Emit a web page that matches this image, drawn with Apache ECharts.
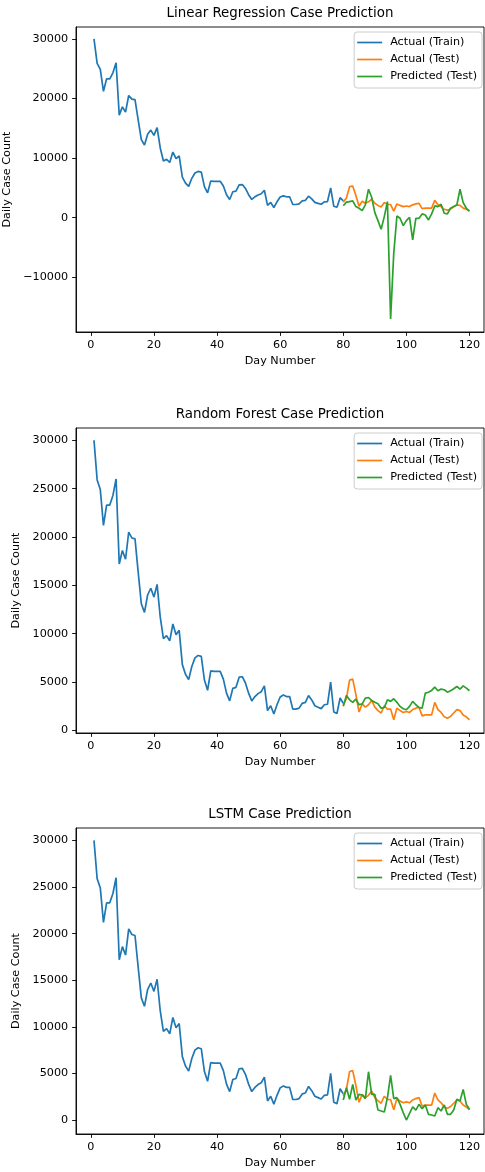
<!DOCTYPE html>
<html lang="en">

<head>
    <meta charset="UTF-8">
    <title>Case Prediction</title>
    <script src="https://cdn.jsdelivr.net/npm/echarts@6.0.0/dist/echarts.min.js"></script>
    <style>
        body { margin: 0; background: #fff; }
        #main { width: 485px; height: 1172px; }
    </style>
</head>

<body>
    <div id="main"></div>
    <script type="text/javascript">
        // ---- data ----
        var trainStartDay = 1;
        var testStartDay = 80;

        // Actual (Train): days 1..80
        var trainCases = [
            30000, 25900, 24900, 21200, 23300, 23300, 24300, 26000, 17200, 18600,
            17700, 20500, 19900, 19800, 16400, 13100, 12200, 14000, 14700, 13800,
            15100, 11700, 9500, 9800, 9250, 11000, 9900, 10350, 6800, 5800,
            5250, 6600, 7500, 7750, 7650, 5200, 4150, 6150, 6100, 6100,
            6100, 5300, 3850, 3050, 4350, 4450, 5500, 5550, 4900, 3850,
            3050, 3500, 3800, 4000, 4600, 2050, 2550, 1700, 2650, 3450,
            3650, 3500, 3500, 2200, 2200, 2300, 2800, 2900, 3600, 3150,
            2550, 2400, 2250, 2650, 2700, 5000, 1900, 1750, 3350, 2800
        ];

        // Actual (Test): days 80..120
        var testCases = [
            2600, 3300, 5200, 5300, 3700, 1900, 2750, 2400, 2650, 3100,
            2400, 2050, 1800, 2550, 2200, 2200, 1100, 2300, 2050, 1850,
            1950, 1850, 2150, 2300, 2400, 1500, 1600, 1600, 1600, 2900,
            2150, 1850, 1400, 1250, 1450, 1800, 2150, 2050, 1600, 1400,
            1100
        ];

        // Predicted (Test), one list per model
        var lrPred = [
            2000, 2600, 2700, 2800, 1850, 1570, 1180, 2130, 4760, 3420,
            840, -500, -1960, 170, 2690, -17000, -6000, 280, -110, -1340,
            -500, 60, -3750, -110, -110, 620, 450, -390, 620, 1960,
            1850, 2240, 730, 620, 1570, 1850, 2130, 4760, 2520, 1570,
            1100
        ];
        var rfPred = [
            2500, 3600, 3160, 2900, 3230, 2650, 2750, 3340, 3400, 3100,
            2900, 2750, 2300, 2370, 3160, 3000, 3270, 2900, 2480, 2240,
            2130, 2480, 3000, 2650, 2370, 2300, 3850, 3950, 4130, 4470,
            4100, 4270, 4200, 3950, 4100, 4300, 4540, 4270, 4600, 4370,
            4100
        ];
        var lstmPred = [
            2150, 3470, 2220, 3820, 2150, 2750, 2680, 2290, 5180, 2750,
            2750, 1070, 970, 860, 2400, 4790, 2290, 2400, 1680, 790,
            0, 720, 1400, 1070, 1680, 1220, 1610, 610, 540, 430,
            1320, 970, 1610, 610, 610, 1070, 2220, 2040, 3290, 1680,
            1150
        ];

        // tick labels
        var xTicks = [0, 20, 40, 60, 80, 100, 120];
        var yTicksLR = [-10000, 0, 10000, 20000, 30000];
        var yTicks = [0, 5000, 10000, 15000, 20000, 25000, 30000];

        var titles = [
            'Linear Regression Case Prediction',
            'Random Forest Case Prediction',
            'LSTM Case Prediction'
        ];
        var seriesNames = ['Actual (Train)', 'Actual (Test)', 'Predicted (Test)'];

        // ---- layout ----
        var font = 'DejaVu Sans';
        var colors = ['#1f77b4', '#ff7f0e', '#2ca02c'];
        var panels = [
            { top: 27, height: 305, yMin: -19200, yMax: 32000, ticks: yTicksLR, pred: lrPred, nameGap: 57 },
            { top: 428, height: 305, yMin: -270, yMax: 31270, ticks: yTicks, pred: rfPred, nameGap: 52 },
            { top: 828, height: 306, yMin: -1500, yMax: 31330, ticks: yTicks, pred: lstmPred, nameGap: 52 }
        ];

        function toPairs(start, values) {
            return values.map(function (v, i) { return [start + i, v]; });
        }

        function fmt(v) {
            return v < 0 ? '\u2212' + Math.abs(v) : String(v);
        }

        var grid = [], xAxis = [], yAxis = [], series = [], legend = [], graphic = [];

        panels.forEach(function (p, i) {
            grid.push({
                left: 76, width: 408, top: p.top, height: p.height,
                outerBoundsMode: 'none', containLabel: false,
                show: true, borderColor: '#000', borderWidth: 0.9, backgroundColor: 'transparent'
            });

            xAxis.push({
                gridIndex: i, type: 'value', min: -4.7, max: 124.6,
                axisLine: { show: true, onZero: false, lineStyle: { color: '#000', width: 0.9 } },
                axisTick: { show: true, length: 3.9, customValues: xTicks, lineStyle: { color: '#000', width: 0.9 } },
                axisLabel: { customValues: xTicks, margin: 7.8, color: '#000', fontSize: 11.2, fontFamily: font },
                splitLine: { show: false },
                name: 'Day Number', nameLocation: 'middle', nameGap: 24,
                nameTextStyle: { color: '#000', fontSize: 11.2, fontFamily: font }
            });

            yAxis.push({
                gridIndex: i, type: 'value', min: p.yMin, max: p.yMax,
                axisLine: { show: true, onZero: false, lineStyle: { color: '#000', width: 0.9 } },
                axisTick: { show: true, length: 3.9, customValues: p.ticks, lineStyle: { color: '#000', width: 0.9 } },
                axisLabel: { customValues: p.ticks, margin: 7.8, color: '#000', fontSize: 11.2, fontFamily: font, formatter: fmt },
                splitLine: { show: false },
                name: 'Daily Case Count', nameLocation: 'middle', nameRotate: 90, nameGap: p.nameGap,
                nameTextStyle: { color: '#000', fontSize: 11.2, fontFamily: font }
            });

            var sets = [
                toPairs(trainStartDay, trainCases),
                toPairs(testStartDay, testCases),
                toPairs(testStartDay, p.pred)
            ];
            sets.forEach(function (d, k) {
                series.push({
                    name: seriesNames[k], type: 'line', xAxisIndex: i, yAxisIndex: i,
                    data: d, symbol: 'none', showSymbol: false,
                    lineStyle: { color: colors[k], width: 1.7 },
                    itemStyle: { color: colors[k] }
                });
            });

            // legend: plain line samples, like matplotlib
            legend.push({
                data: seriesNames, orient: 'vertical', right: 3, top: p.top + 5,
                icon: 'rect', itemWidth: 25, itemHeight: 1.7, itemGap: 4,
                padding: [4, 5, 5, 3],
                backgroundColor: 'rgba(255,255,255,0.8)', borderColor: '#cccccc', borderWidth: 1, borderRadius: 3,
                textStyle: { color: '#000', fontSize: 11.2, fontFamily: font, lineHeight: 13, padding: [0, 0, 0, 3] }
            });

            graphic.push({
                type: 'text', x: 280, y: p.top - 13,
                style: {
                    text: titles[i], fill: '#000', font: '13.4px "DejaVu Sans"',
                    align: 'center', verticalAlign: 'middle'
                }
            });
        });

        var myChart = echarts.init(document.getElementById('main'));
        var option = {
            animation: false,
            backgroundColor: '#fff',
            grid: grid,
            xAxis: xAxis,
            yAxis: yAxis,
            legend: legend,
            graphic: graphic,
            series: series
        };
        myChart.setOption(option);
    </script>
</body>

</html>
